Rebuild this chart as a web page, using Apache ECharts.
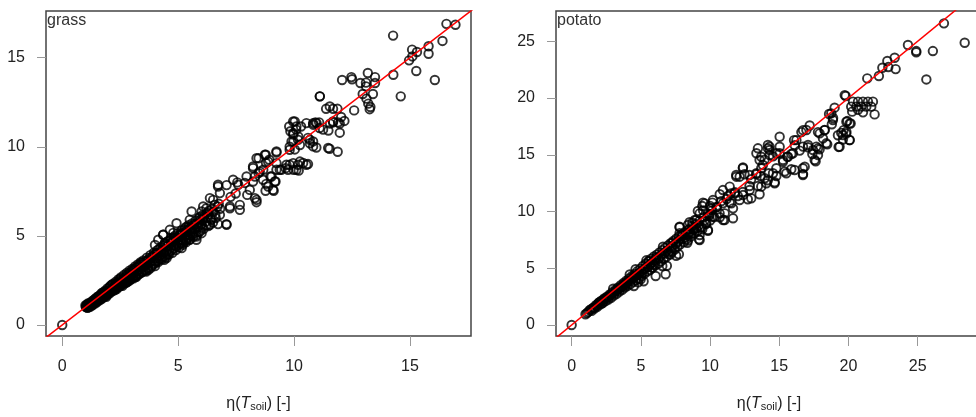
<!DOCTYPE html>
<html>
<head>
<meta charset="utf-8">
<script src="https://cdn.jsdelivr.net/npm/echarts@6/dist/echarts.min.js"></script>
<style>html,body{margin:0;padding:0;background:#fff}#c{width:976px;height:417px}</style>
</head>
<body>
<div id="c"></div>
<script>
// ---- data ----
const panelTitles = ['grass', 'potato'];
const grassXTicks = [0, 5, 10, 15];
const grassYTicks = [0, 5, 10, 15];
const potatoXTicks = [0, 5, 10, 15, 20, 25];
const potatoYTicks = [0, 5, 10, 15, 20, 25];
const oneToOne = [[-5, -5], [40, 40]];

const grassCore = [
[0,0],[1.02,1.0],[1.05,1.12],[1.08,0.98],[1.12,1.08],[1.15,1.2],[1.18,1.05],[1.22,1.15],[1.25,1.28],[1.28,1.12],[1.32,1.22],[1.35,1.38],[1.38,1.25],[1.42,1.32],[1.45,1.5],[1.48,1.36],[1.52,1.45],[1.55,1.6],[1.58,1.42],[1.62,1.55],[1.65,1.7],[1.68,1.52],[1.72,1.62],[1.75,1.82],[1.78,1.6],[1.82,1.74],[1.85,1.92],[1.88,1.7],[1.92,1.82],[1.95,2.05],[1.98,1.78],[2.02,1.92],[2.05,2.15],[2.1,1.88],[2.14,2.02],[2.18,2.3],[2.22,2.0],[2.26,2.14],[2.3,2.42],[2.34,2.1],[2.38,2.25],[2.42,2.55],[2.46,2.2],[2.5,2.35],[2.54,2.68],[2.58,2.28],[2.62,2.48],[2.66,2.8],[2.7,2.4],[2.74,2.6],[2.78,2.92],[2.82,2.5],[2.86,2.7],[2.9,3.05],[2.94,2.58],[2.98,2.82],[3.02,3.15],[3.06,2.7],[3.1,2.92],[3.14,3.28],[3.18,2.78],[3.22,3.02],[3.26,3.4],[3.3,2.88],[3.34,3.12],[3.38,3.52],[3.42,2.98],[3.46,3.22],[3.5,3.62],[3.55,3.08],[3.6,3.35],[3.65,3.78],[3.7,3.2],[3.75,3.5],[3.8,3.92],[3.85,3.3],[3.9,3.6],[3.95,4.05],[4.0,3.45],[4.05,3.75],[4.1,4.2],[4.15,3.55],[4.2,3.88],[4.25,4.35],[4.3,3.68],[4.35,4.0],[4.4,4.55],[4.45,3.8],[4.5,4.15],[4.55,4.7],[4.6,3.95],[4.65,4.3],[4.7,4.85],[4.75,4.05],[4.8,4.45],[4.85,5.0],[4.9,4.2],[4.95,4.6],[5.0,5.15],[5.05,4.35],[5.1,4.75],[5.15,5.3],[5.2,4.5],[5.25,4.9],[5.3,5.45],[5.35,4.65],[5.4,5.05],[5.45,5.6],[5.5,4.8],[5.55,5.2],[5.6,5.7],[5.65,4.95],[5.7,5.35],[5.75,5.85],[5.8,5.05],[5.85,5.5],[5.9,6.0],[5.95,5.25],[6.0,5.65],[6.05,6.15],[6.1,5.4],[6.2,5.8],[6.25,6.3],[6.3,5.55],[6.4,6.0],[6.45,6.5],[6.5,5.75],[6.6,6.2],[6.7,6.65],
[1.1,1.2],[1.3,1.1],[1.5,1.35],[1.7,1.78],[1.9,1.65],[2.1,2.22],[2.3,2.05],[2.5,2.6],[2.7,2.55],[2.9,2.75],[3.1,3.1],[3.3,3.3],[3.5,3.4],[3.7,3.65],[3.9,3.85],[4.1,4.0],[4.3,4.2],[4.5,4.4],[4.7,4.6],[4.9,4.85],[5.1,5.05],[5.3,5.2],[5.5,5.4],[5.7,5.6],[5.9,5.75],[6.1,6.0],[6.3,6.2],
[2.8,2.4],[3.2,2.7],[3.6,3.05],[4.0,3.3],[4.4,3.65],
[1.0,1.1],[1.04,1.03],[1.07,1.14],[1.1,0.96],[1.13,1.13],[1.17,1.1],[1.2,1.02],[1.24,1.21],[1.27,1.18],[1.3,1.35],[1.33,1.16],[1.37,1.31],[1.4,1.44],[1.43,1.22],[1.47,1.42],[1.5,1.28],[1.53,1.58],[1.57,1.5],[1.6,1.38],[1.63,1.64],[1.67,1.44],[1.7,1.66],[1.73,1.5],[1.77,1.72],[1.8,1.56],[1.83,1.85],[1.87,1.78],[1.9,1.58],[1.93,1.9],[1.97,1.7],[2.0,1.84],[2.03,2.08],[2.07,1.8],[2.11,2.0],[2.15,2.26],[2.19,1.92],[2.23,2.18],[2.27,1.96],[2.31,2.3],[2.35,2.02],[2.39,2.38],[2.43,2.12],[2.47,2.48],[2.51,2.18],[2.55,2.5],[2.6,2.2],[2.64,2.6],[2.68,2.32],[2.72,2.7],[2.76,2.38],[2.8,2.82],[2.84,2.45],[2.88,2.9],[2.92,2.5],[2.96,2.98],[3.0,2.6],[3.04,3.05],[3.08,2.62],[3.12,3.15],[3.16,2.7],[3.2,3.22],[3.24,2.8],[3.28,3.3],[3.32,2.85],[3.36,3.42],[3.4,2.92],[3.44,3.5],[3.48,3.0],[3.52,3.3],[3.57,3.55],[3.62,3.0],[3.67,3.6],[3.72,3.1],[3.77,3.75],[3.82,3.2],[3.87,3.8],[3.92,3.4],[3.97,3.95],[4.02,3.55],[4.07,4.05],[4.12,3.6],[4.17,4.25],[4.22,3.7],[4.27,4.1],[4.32,3.8],[4.37,4.45],[4.42,3.9],[4.47,4.5],[4.52,3.95],[4.57,4.45],[4.62,4.1],[4.67,4.75],[4.72,4.2],[4.77,4.7],[4.82,4.3],[4.87,4.9],[4.92,4.4],[4.97,4.95],[5.02,4.5],[5.07,5.05],[5.12,4.6],[5.17,5.1],[5.22,4.7],[5.27,5.35],[5.32,4.8],[5.37,5.3],[5.42,4.9],[5.47,5.5],[5.52,5.0],[5.57,5.45],[5.62,5.1],[5.67,5.65],[5.72,5.15],[5.8,5.7],[5.88,5.2],[5.96,5.9],[6.04,5.5],[6.12,6.1],[6.22,5.6],[6.32,6.4],[6.42,5.9],[6.52,6.35],[6.62,6.0],[6.75,6.8]
];
const grassOuter = [
[16.57,16.9],[16.96,16.85],[14.27,16.24],[16.4,15.94],[15.09,15.45],[15.3,15.32],[15.8,15.64],[15.8,15.22],[14.96,14.85],[15.1,15.07],[15.27,14.25],[16.07,13.75],[14.28,14.04],[14.6,12.83],
[13.18,14.14],[12.47,13.91],[12.07,13.75],[12.5,13.79],[12.86,13.58],[13.1,13.6],[13.49,13.91],[13.49,13.58],[13.1,13.39],[12.96,12.96],[13.4,12.96],[13.12,12.7],[13.2,12.42],[13.29,12.23],[13.26,12.11],[12.59,12.04],
[11.11,12.83],[11.68,12.13],[11.38,12.13],[11.87,12.13],[12.03,11.67],[12.17,11.45],[11.68,11.37],[11.55,11.3],[11.97,11.3],[11.48,10.91],[11.97,10.79],[11.9,11.37],[11.53,9.89],[11.88,9.72],[10.96,9.96],[10.82,10.3],[10.68,10.2],[10.92,11.37],[11.1,11.05],[11.08,11.37],[10.82,11.33],
[9.79,11.14],[10.03,11.42],[9.84,10.87],[10.09,10.96],[10.3,11.14],[9.97,10.68],[9.97,10.3],[10.18,10.58],[10.6,10.5],[10.25,10.1],[9.81,10.0],[10.03,9.85],
[10.6,9.03],[10.39,9.09],[10.17,8.99],[9.81,8.99],[9.64,8.8],[9.98,8.71],[10.2,8.67],[9.24,8.71],[9.45,8.71],[9.24,9.68],[8.78,9.55],[8.47,9.36],[8.93,9.27],[8.79,9.09],[8.98,8.33],[9.2,8.05],[8.8,7.92],[9.12,7.53],[8.77,7.53],[8.31,7.12],[8.38,6.89],[8.47,8.52],[8.23,8.8],[8.67,8.71],[8.31,8.33],
[7.66,6.74],[7.98,7.3],[7.48,7.38],[7.26,7.19],[7.55,8.0],[7.88,7.97],[7.09,7.85],[6.72,7.87],[6.8,7.4],[6.51,7.02],[7.23,6.55],[6.81,6.52],[6.22,6.55],[6.01,6.37],[7.08,5.66],[6.72,5.66],[6.37,5.62],[5.36,4.78],[5.79,4.78],[5.15,4.31],[4.36,5.06],[4.79,5.17],[4.5,3.75],[4.07,4.03],
[6.72,7.77],[7.09,5.62],[7.66,6.46],[7.23,6.65],[6.8,6.18],[6.37,7.12],[6.58,6.74],[6.08,6.65],[5.94,6.08],[5.58,6.37],[5.5,5.9],[5.36,5.52],[5.15,5.15],[4.93,5.71],[4.64,5.34],[4.79,4.87],[4.35,5.06],[4.43,4.59],[4.14,4.78],[4.0,4.49],[6.01,5.15],[5.79,4.96],[5.5,4.78],[5.22,4.59],
[7.37,8.15],[7.59,7.87],[7.95,8.33],[8.09,7.58],[8.38,7.02],[8.23,8.05],[8.52,8.61],[8.66,8.15],[8.88,7.77],[9.09,7.58],[9.17,8.05],[9.03,8.33],[8.23,8.89],[8.38,9.36],[8.74,9.55],[9.24,9.74],[8.88,9.17],[9.38,8.71],[9.67,8.99],[9.96,9.08],[10.25,9.17],[10.53,8.99],[10.1,8.71],[9.74,8.71],[9.24,9.08],
[9.96,11.42],[10.1,11.14],[9.96,10.77],[9.89,10.3],[10.17,10.39],[9.81,9.83],[10.53,11.33],[10.82,11.24],[10.68,10.39],[10.82,10.02],[10.97,11.33],[11.25,10.96],[11.47,9.93],[11.54,12.26],[11.11,12.83],[11.68,11.42]
];

const potatoCore = [
[0,0],[1.0,0.95],[1.1,1.05],[1.3,1.3],[1.45,1.25],[1.55,1.5],[1.65,1.45],[1.75,1.75],[1.85,1.6],[1.95,1.95],[2.05,1.8],[2.15,2.15],[2.25,1.95],[2.35,2.35],[2.45,2.1],[2.55,2.5],[2.65,2.25],[2.75,2.7],[2.85,2.4],[2.95,2.9],[3.05,2.6],[3.15,3.1],[3.25,2.75],[3.35,3.3],[3.45,2.95],[3.55,3.5],[3.65,3.1],[3.75,3.7],[3.85,3.3],[3.95,3.9],[4.05,3.45],[4.15,4.1],[4.25,3.6],[4.35,4.3],[4.45,3.8],[4.55,4.5],[4.65,3.95],[4.75,4.75],[4.85,4.1],[4.95,4.95],[5.05,4.3],[5.15,5.2],[5.25,4.5],[5.35,5.4],[5.45,4.7],[5.55,5.6],[5.65,4.85],[5.75,5.85],[5.85,5.05],[5.95,6.05],[6.05,5.25],[6.15,6.2],[6.25,5.4],[6.35,6.4],[6.45,5.6],[6.55,6.6],[6.65,5.8],[6.75,6.8],[6.85,6.0],[6.95,7.0],[7.05,6.2],[7.15,7.2],[7.25,6.45],[7.35,7.4],[7.45,6.65],[7.55,7.6],[7.65,6.9],[7.75,7.8],[7.85,7.1],[7.95,8.0],[8.1,7.3],[8.2,8.2],[8.3,7.55],[8.45,8.4],[8.6,7.8],[8.7,8.7],[8.85,8.05],[9.0,8.9],[9.1,8.3],[9.25,9.2],[9.4,8.6],[9.55,9.5],[9.7,8.9],[9.85,9.8],[10.0,9.2],[10.15,10.1],[10.3,9.5],
[2.0,2.0],[2.4,2.3],[2.8,2.65],[3.2,3.0],[3.6,3.35],[4.0,3.75],[4.4,4.15],[4.8,4.45],[5.2,4.9],[5.6,5.25],[6.0,5.7],[6.4,6.05],[6.8,6.45],[7.2,6.8],[7.6,7.25],[8.0,7.6],[8.4,8.0],[8.8,8.4],[9.2,8.8],[9.6,9.2],[3.0,3.2],[4.2,4.45],[5.4,5.7],[6.6,6.9],[7.8,8.1],[8.9,9.25],[9.5,10.1],[10.0,10.5],[10.5,10.4],[10.8,10.9],[11.2,11.1],[11.5,11.6],[11.8,11.7],
[1.2,1.15],[1.4,1.4],[1.6,1.55],[1.8,1.7],[1.9,1.85],[2.1,2.05],[2.2,1.9],[2.3,2.2],[2.5,2.35],[2.6,2.45],[2.7,2.5],[2.9,2.7],[3.1,2.85],[3.3,3.1],[3.4,3.2],[3.5,3.25],[3.7,3.45],[3.8,3.6],[3.9,3.5],[4.1,3.85],[4.3,3.95],[4.5,4.25],[4.6,4.3],[4.7,4.4],[4.9,4.6],[5.0,4.7],[5.1,4.55],[5.3,5.0],[5.5,5.1],[5.7,5.4],[5.8,5.5],[5.9,5.3],[6.1,5.9],[6.3,5.85],[6.5,6.2],[6.7,6.3],[6.9,6.6],[7.0,6.4],[7.3,7.0],[7.5,7.1],[7.7,7.4],[8.0,7.85],[8.2,7.7],[8.5,8.2],[8.8,8.6],[9.0,8.5]
];
const potatoOuter = [
[26.9,26.58],[28.4,24.87],[24.3,24.67],[24.9,24.14],[24.9,24.02],[26.1,24.14],[25.63,21.64],[23.34,23.55],[23.41,22.55],[22.81,23.26],[22.45,22.67],[22.88,22.73],[22.2,21.94],[21.36,21.73],[19.8,20.18],
[20.33,19.68],[20.69,19.68],[21.05,19.68],[21.41,19.68],[21.77,19.68],[20.2,19.24],[20.57,19.24],[20.93,19.24],[21.29,19.24],[21.65,19.24],[20.27,18.8],[21.05,18.74],[21.89,18.56],[20.69,18.97],
[19.0,19.15],[18.6,18.59],[18.89,18.24],[18.8,17.69],[19.92,17.97],[20.16,17.76],[19.65,17.17],[19.48,16.93],[19.24,16.72],[19.84,16.87],[20.08,16.29],[19.6,16.34],[19.29,15.69],[18.47,15.92],[18.28,17.17],[17.8,17.0],[18.16,16.44],[17.92,15.48],[17.63,14.42],[17.39,15.07],[17.68,15.72],[17.08,15.66],[17.2,17.58],[16.72,17.17],[16.6,17.0],[16.24,16.29],[16.72,15.72],[16.48,15.37],[16.84,13.95],[16.72,13.3],[16.07,16.29],[16.12,15.84],
[15.03,16.59],[15.87,15.07],[15.58,14.83],[15.27,14.39],[15.87,13.72],[15.39,13.52],[14.79,13.13],[14.79,13.81],[14.3,15.72],[13.94,14.56],[14.55,14.86],[15.03,15.13],[13.7,13.81],[14.24,13.37],[13.64,13.13],[14.67,12.58],[14.18,12.75],[13.34,13.28],[12.97,12.84],[12.37,13.81],[12.49,13.28],[11.89,13.22],[12.85,12.25],[12.37,11.72],[12.73,11.08],[12.01,11.37],[13.46,12.25],[13.58,11.52],
[11.66,9.4],[10.94,9.25],[11.06,9.84],[11.66,10.28],[11.3,11.37],[10.7,11.52],[11.42,10.78],[10.46,10.37],[10.7,9.49],[9.49,10.78],[9.12,10.05],[9.97,9.76],[9.85,8.3],[9.25,7.49],[8.52,9.05],[8.64,8.03],[8.4,7.44],[7.8,8.61],[7.55,6.1],[6.88,5.22],[6.1,5.95],[5.2,3.85],[4.8,3.76],[5.8,5.07],
[9.2,7.55],[8.36,7.25],[7.75,6.23],[7.15,6.23],[6.55,5.2],[6.79,4.47],[6.07,4.32],[5.59,5.64],[4.62,4.91],[4.99,4.03],[3.9,3.59],[4.5,3.44],[9.44,10.48],[10.17,10.78],[9.92,9.6],[8.72,9.01],[8.0,7.84],[9.44,8.43],[8.48,8.43],[7.27,7.25],
[12.38,13.89],[12.14,13.07],[11.9,13.07],[12.86,13.22],[13.58,14.54],[13.7,14.83],[14.18,15.57],[14.31,14.98],[13.82,14.1],[13.35,13.37],[13.95,12.93],[14.67,12.48],[14.55,13.37],[15.27,14.54],[15.63,14.83],[15.99,15.13],[15.51,13.37],[16.11,13.66],[16.71,13.81],[16.71,13.22],[16.96,17.18],[17.08,15.86],[17.44,15.42],[17.8,15.57],[17.56,14.54],[17.92,16.89],[18.28,17.18],[18.4,16.01],[17.8,14.98],[18.76,18.65],[18.88,18.06],[19.6,16.74],[19.85,17.03],[20.09,16.3],[19.36,15.71],[19.85,17.91],[20.09,17.77],[19.73,20.26],
[10.93,11.89],[11.42,12.19],[11.78,11.6],[12.38,11.45],[12.86,11.89],[12.98,11.16],[12.14,11.01],[11.54,10.72],[10.93,10.72],[10.21,11.01],[9.61,10.72],[10.09,10.28],[10.69,9.84],[11.05,9.25],[10.21,9.54],[9.25,9.84],[9.01,9.25],[8.4,8.81],[7.8,8.66],[9.73,8.96],[9.85,8.37],[9.25,7.93],[8.53,8.08],[13.7,12.19],[14.07,12.48],[13.35,15.13],[13.46,15.57],[14.18,15.86],[14.31,15.42],[14.79,15.13],[15.03,15.71]
];

// ---- chart ----
const FONT = 'Liberation Sans, Arial, Helvetica, sans-serif';
const chart = echarts.init(document.getElementById('c'), null, {renderer: 'canvas'});

function xAxisFor(idx, min, max, ticks) {
  return {
    type: 'value', gridIndex: idx, min: min, max: max, position: 'bottom',
    axisLine: {show: false, onZero: false}, splitLine: {show: false},
    axisTick: {show: true, length: 10, lineStyle: {color: '#999', width: 1}, customValues: ticks},
    axisLabel: {customValues: ticks, fontFamily: FONT, fontSize: 16, color: '#222', margin: 23},
    name: '{n|η(}{t|T}{s|soil}{n|) [-]}',
    nameLocation: 'middle', nameGap: 60,
    nameTextStyle: {
      fontFamily: FONT, fontSize: 16, color: '#222',
      rich: {
        n: {fontFamily: FONT, fontSize: 16, color: '#222'},
        t: {fontFamily: FONT, fontSize: 16, fontStyle: 'italic', color: '#222'},
        s: {fontFamily: FONT, fontSize: 11, color: '#222', padding: [5, 0, 0, 0]}
      }
    }
  };
}
function yAxisFor(idx, min, max, ticks) {
  return {
    type: 'value', gridIndex: idx, min: min, max: max, position: 'left',
    axisLine: {show: false, onZero: false}, splitLine: {show: false},
    axisTick: {show: true, length: 9, lineStyle: {color: '#999', width: 1}, customValues: ticks},
    axisLabel: {customValues: ticks, fontFamily: FONT, fontSize: 16, color: '#222', margin: 21}
  };
}
function scatterFor(idx, data) {
  return {
    type: 'scatter', xAxisIndex: idx, yAxisIndex: idx, data: data,
    symbol: 'circle', symbolSize: 8.5, large: false,
    itemStyle: {color: 'rgba(0,0,0,0)', borderColor: '#000', borderWidth: 1.9},
    silent: true, z: 2
  };
}
function lineFor(idx) {
  return {
    type: 'line', xAxisIndex: idx, yAxisIndex: idx, data: oneToOne,
    symbol: 'none', lineStyle: {color: '#f00', width: 1.5}, clip: true, silent: true, z: 3
  };
}

chart.setOption({
  animation: false,
  backgroundColor: '#fff',
  grid: [
    {left: 46, top: 11, width: 425, height: 325, show: true, borderColor: '#444', borderWidth: 1.5, backgroundColor: 'transparent', containLabel: false, outerBoundsMode: 'none'},
    {left: 556, top: 11, width: 426, height: 325, show: true, borderColor: '#444', borderWidth: 1.5, backgroundColor: 'transparent', containLabel: false, outerBoundsMode: 'none'}
  ],
  xAxis: [
    xAxisFor(0, -0.7, 17.63, grassXTicks),
    xAxisFor(1, -1.13, 29.65, potatoXTicks)
  ],
  yAxis: [
    yAxisFor(0, -0.62, 17.62, grassYTicks),
    yAxisFor(1, -0.97, 27.67, potatoYTicks)
  ],
  graphic: [
    {type: 'text', left: 47, top: 13, style: {text: panelTitles[0], font: '16px ' + FONT, fill: '#333'}},
    {type: 'text', left: 557, top: 13, style: {text: panelTitles[1], font: '16px ' + FONT, fill: '#333'}}
  ],
  series: [
    scatterFor(0, grassCore.concat(grassOuter)),
    lineFor(0),
    scatterFor(1, potatoCore.concat(potatoOuter)),
    lineFor(1)
  ]
});
</script>
</body>
</html>
